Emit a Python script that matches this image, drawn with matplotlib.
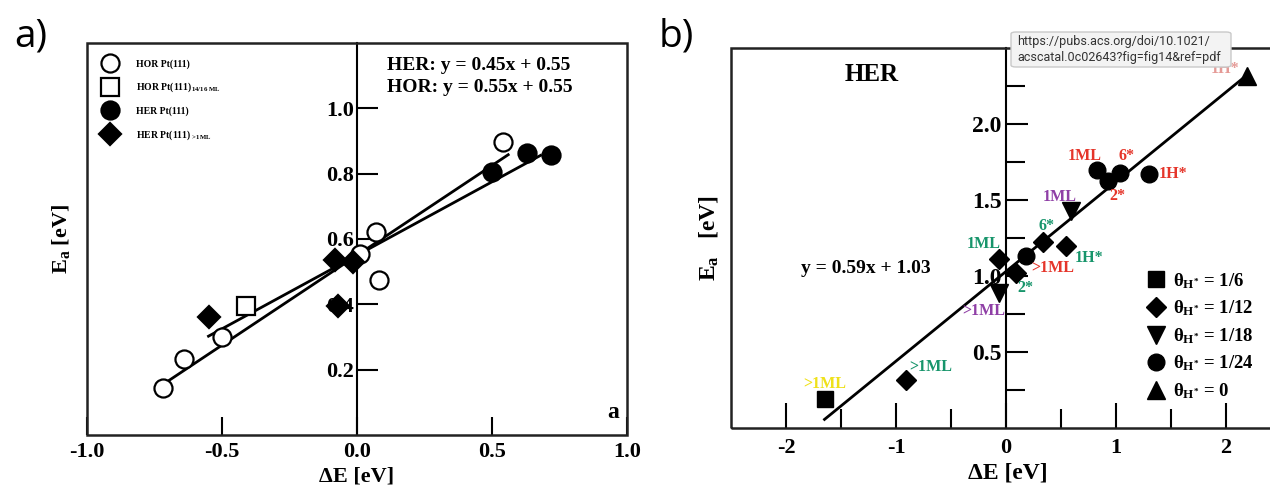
import matplotlib
matplotlib.use("Agg")
import matplotlib.pyplot as plt
from matplotlib.patches import Rectangle, FancyBboxPatch
from matplotlib.ticker import FormatStrFormatter

plt.rcParams["font.family"] = ["Liberation Serif", "DejaVu Serif"]
plt.rcParams["font.weight"] = "bold"
plt.rcParams["axes.labelweight"] = "bold"
plt.rcParams["axes.unicode_minus"] = False
plt.rcParams["mathtext.fontset"] = "custom"
plt.rcParams["mathtext.rm"] = "Liberation Serif"
plt.rcParams["mathtext.bf"] = "Liberation Serif:bold"
plt.rcParams["mathtext.it"] = "Liberation Serif:italic"

# --- panel a data ---
hor_x = [-0.72, -0.64, -0.50, 0.01, 0.07, 0.08, 0.54]
hor_y = [0.145, 0.233, 0.300, 0.553, 0.620, 0.474, 0.897]
hor16_x = [-0.41]
hor16_y = [0.395]
her_x = [0.50, 0.63, 0.72]
her_y = [0.805, 0.863, 0.857]
her1ml_x = [-0.55, -0.08, -0.015, -0.07]
her1ml_y = [0.361, 0.537, 0.531, 0.395]
# fits: slope, intercept, x range
her_fit = [0.45, 0.55, -0.55, 0.68]
hor_fit = [0.55, 0.55, -0.72, 0.56]

# --- panel b data ---
b_x = [-1.647, -0.909, -0.065, -0.065, 0.088, 0.186, 0.333, 0.55, 0.588, 0.829, 0.927, 1.036, 1.30, 2.19]
b_y = [0.189, 0.315, 1.11, 0.89, 1.02, 1.13, 1.226, 1.197, 1.43, 1.70, 1.625, 1.68, 1.67, 2.316]
b_cov = ["1/6", "1/12", "1/12", "1/18", "1/12", "1/24", "1/12", "1/12", "1/18", "1/24", "1/24", "1/24", "1/24", "0"]
b_tag = [">1ML", ">1ML", "1ML", ">1ML", "2*", ">1ML", "6*", "1H*", "1ML", "1ML", "2*", "6*", "1H*", "1H*"]
b_tag_kind = ["yellow", "green", "green", "purple", "green", "red", "green", "green", "purple", "red", "red", "red", "red", "pink"]
b_fit = [0.59, 1.03, -1.65, 2.15]
cov_order = ["1/6", "1/12", "1/18", "1/24", "0"]

# styles
tag_colors = {"yellow": "#efe11a", "green": "#17956b", "purple": "#8f3fa6", "red": "#e5352a", "pink": "#e59a96"}
cov_markers = {"1/6": ("s", 11), "1/12": ("D", 10), "1/18": ("v", 13), "1/24": ("o", 12), "0": ("^", 13)}
tag_offsets = [(0, 11), (18, 9.5), (-11, 11), (-11, -13), (7, -11), (19, -8.5), (3, 11),
               (16, -8.5), (-8, 9.5), (-9, 10), (6.5, -11), (5, 12), (17, 0), (-16, 5)]

W, H = 1270, 490
fig = plt.figure(figsize=(12.7, 4.9), dpi=100)


def frame(ax):
    for s in ["top", "right", "bottom"]:
        ax.spines[s].set_visible(False)
    ax.spines["left"].set_position(("data", 0))
    ax.spines["left"].set_linewidth(1.5)
    ax.add_patch(Rectangle((0, 0), 1, 1, transform=ax.transAxes, fill=False,
                           lw=1.8, ec="#222222", clip_on=False, zorder=2.6))


# ================= panel a =================
ax = fig.add_axes([87 / W, 1 - 435 / H, 540 / W, 392 / H])
ax.set_xlim(-1, 1)
ax.set_ylim(0, 1.2)
frame(ax)

for fit in [her_fit, hor_fit]:
    xs = [fit[2], fit[3]]
    ax.plot(xs, [fit[0] * v + fit[1] for v in xs], color="black", lw=2, zorder=2)

kw = dict(ls="none", mec="black", mew=1.6, zorder=3)
ax.plot(hor_x, hor_y, marker="o", ms=13, mfc="white", label="HOR Pt(111)", **kw)
ax.plot(hor16_x, hor16_y, marker="s", ms=13, mfc="white",
        label=r"HOR Pt(111)$_{\mathbf{14/16\ ML}}$", **kw)
ax.plot(her_x, her_y, marker="o", ms=13, mfc="black", label="HER Pt(111)", **kw)
ax.plot(her1ml_x, her1ml_y, marker="D", ms=11, mfc="black",
        label=r"HER Pt(111)$_{\mathbf{>1ML}}$", **kw)

ax.set_xticks([-1, -0.5, 0, 0.5, 1])
ax.set_yticks([0.2, 0.4, 0.6, 0.8, 1.0])
ax.xaxis.set_major_formatter(FormatStrFormatter("%.1f"))
ax.yaxis.set_major_formatter(FormatStrFormatter("%.1f"))
ax.tick_params(axis="x", direction="in", length=13, width=1.5, labelsize=16, pad=5)
ax.tick_params(axis="y", direction="in", length=15, width=1.5, labelsize=16, pad=2)

ax.set_xlabel("ΔE [eV]", fontsize=16)
ax.xaxis.set_label_coords(0.5, -0.08)
ax.set_ylabel(r"$\mathbf{E_a}$ [eV]", fontsize=16)
ax.yaxis.set_label_coords(-0.028, 0.5)

ax.text(0.555, 0.965, "HER: y = 0.45x + 0.55\nHOR: y = 0.55x + 0.55", transform=ax.transAxes,
        fontsize=14, va="top", ha="left", linespacing=1.4)
ax.text(0.985, 0.03, "a", transform=ax.transAxes, fontsize=17, ha="right", va="bottom")

ax.legend(loc="upper left", bbox_to_anchor=(0.032, 0.959), frameon=False, fontsize=7,
          handlelength=1.2, handletextpad=2.1, labelspacing=1.25, borderpad=0, borderaxespad=0)

# ================= panel b =================
bx = fig.add_axes([731 / W, 1 - 428 / H, 550 / W, 380 / H])
bx.set_xlim(-2.5, 2.5)
bx.set_ylim(0, 2.5)
frame(bx)

xs = [b_fit[2], b_fit[3]]
bx.plot(xs, [b_fit[0] * v + b_fit[1] for v in xs], color="black", lw=2, zorder=2)

for cov in cov_order:
    idx = [i for i, c in enumerate(b_cov) if c == cov]
    m, ms = cov_markers[cov]
    bx.plot([b_x[i] for i in idx], [b_y[i] for i in idx], ls="none", marker=m, ms=ms,
            color="black", zorder=3,
            label=r"$\mathrm{\theta}_{\mathbf{H^{*}}}$ = " + cov)

for i, tag in enumerate(b_tag):
    bx.annotate(tag, (b_x[i], b_y[i]), xytext=tag_offsets[i], textcoords="offset points",
                ha="center", va="center", fontsize=11.5, color=tag_colors[b_tag_kind[i]], zorder=4)

bx.set_xticks([-2, -1, 0, 1, 2])
bx.set_xticks([-1.5, -0.5, 0.5, 1.5], minor=True)
bx.set_yticks([0.5, 1.0, 1.5, 2.0])
bx.set_yticks([0.25, 0.75, 1.25, 1.75, 2.25], minor=True)
bx.yaxis.set_major_formatter(FormatStrFormatter("%.1f"))
bx.tick_params(axis="x", which="major", direction="in", length=18, width=1.5, labelsize=16, pad=7)
bx.tick_params(axis="x", which="minor", direction="in", length=14, width=1.5)
bx.tick_params(axis="y", which="major", direction="in", length=16, width=1.5, labelsize=17, pad=3)
bx.tick_params(axis="y", which="minor", direction="in", length=14, width=1.5)

bx.set_xlabel("ΔE [eV]", fontsize=17)
bx.xaxis.set_label_coords(0.504, -0.09)
bx.set_ylabel(r"$\mathbf{E_a}$   [eV]", fontsize=17)
bx.yaxis.set_label_coords(-0.02, 0.5)

bx.text(0.255, 0.93, "HER", transform=bx.transAxes, fontsize=18, ha="center", va="center")
bx.text(0.245, 0.42, "y = 0.59x + 1.03", transform=bx.transAxes, fontsize=14, ha="center", va="center")

bx.legend(loc="upper left", bbox_to_anchor=(0.76, 0.413), frameon=False, fontsize=13.5,
          handlelength=0.8, handletextpad=0.5, labelspacing=0.42, borderpad=0, borderaxespad=0)

# panel letters
fig.text(31 / W, 1 - 36 / H, "a)", fontsize=28, family="Open Sans", weight="normal", ha="center", va="center")
fig.text(676 / W, 1 - 36 / H, "b)", fontsize=28, family="Open Sans", weight="normal", ha="center", va="center")

# browser tooltip over panel b
fig.patches.append(FancyBboxPatch((1011 / W, 1 - 67 / H), 220 / W, 35 / H,
                                  boxstyle="round,pad=0,rounding_size=0.004",
                                  transform=fig.transFigure, fc="#f3f3f3", ec="#c9c9c9", lw=1))
fig.text(1017 / W, 1 - 50 / H, "https://pubs.acs.org/doi/10.1021/\nacscatal.0c02643?fig=fig14&ref=pdf",
         fontsize=9, family="Roboto", weight="normal", color="#333333", ha="left", va="center",
         linespacing=1.3)

fig.savefig("out.png", dpi=100)
